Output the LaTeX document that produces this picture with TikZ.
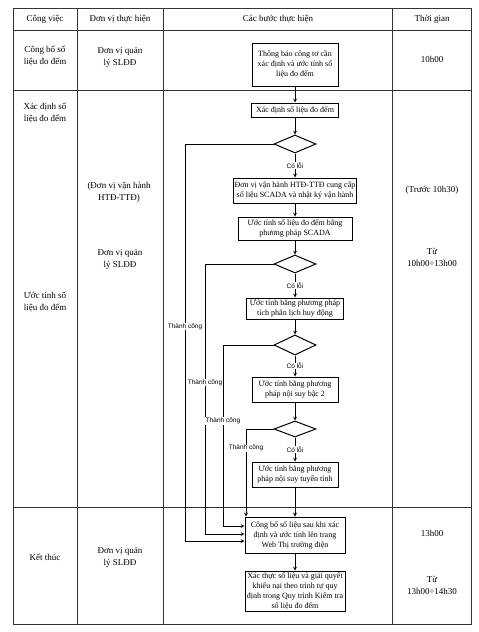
\documentclass[tikz,border=0pt]{standalone}
\usepackage{fontspec}
\setmainfont{Liberation Serif}
\newfontfamily\nhanfont{Liberation Sans}
\usetikzlibrary{shapes.geometric}

\begin{document}
\begin{tikzpicture}[x=1pt,y=-1pt,
  luoi/.style={line width=0.9pt,black!80},
  chu/.style={align=center,font=\fontsize{9}{12}\selectfont},
  buoc/.style={draw,line width=1pt,align=center,inner sep=1pt,font=\fontsize{8}{10}\selectfont},
  reA/.style={draw,diamond,line width=1pt,minimum width=42pt,minimum height=18pt,inner sep=0pt},
  nhan/.style={fill=white,inner sep=0.6pt,font=\nhanfont\fontsize{6.5}{7}\selectfont},
  mui/.style={->,>=stealth,line width=0.7pt}]
\useasboundingbox (0,0) rectangle (479,632);
%bảng
\draw[luoi] (13,8) rectangle (471,624);
\foreach \x in {77,163,392} \draw[luoi] (\x,8) -- (\x,624);
\foreach \y in {30,90,507} \draw[luoi] (13,\y) -- (471,\y);
%tiêu đề
\node[chu] (cv) at (45,19) {Công việc};
\node[chu] (dv) at (120,19) {Đơn vị thực hiện};
\node[chu] (cb) at (278,19) {Các bước thực hiện};
\node[chu] (tg) at (432,19) {Thời gian};
%cột công việc
\node[chu] (cv1) at (45,56) {Công bố số\\liệu đo đếm};
\node[chu] (cv2) at (45,113) {Xác định số\\liệu đo đếm};
\node[chu] (cv3) at (45,302) {Ước tính số\\liệu đo đếm};
\node[chu] (cv4) at (45,557) {Kết thúc};
%cột đơn vị
\node[chu] (dv1) at (120,57) {Đơn vị quản\\lý SLĐĐ};
\node[chu] (dv2) at (119,192) {(Đơn vị vận hành\\HTĐ-TTĐ)};
\node[chu] (dv3) at (120,259) {Đơn vị quản\\lý SLĐĐ};
\node[chu] (dv4) at (120,557) {Đơn vị quản\\lý SLĐĐ};
%cột thời gian
\node[chu] (tg1) at (432,59) {10h00};
\node[chu] (tg2) at (432,190) {(Trước 10h30)};
\node[chu] (tg3) at (432,257) {Từ\\10h00÷13h00};
\node[chu] (tg4) at (432,533) {13h00};
\node[chu] (tg5) at (432,585) {Từ\\13h00÷14h30};
%lưu đồ
\node[buoc,minimum width=86pt,minimum height=43pt] (b1) at (295,64.5) {Thông báo công tơ cần\\xác định và ước tính số\\liệu đo đếm};
\node[buoc,minimum width=87pt,minimum height=14pt] (b2) at (295,110) {Xác định số liệu đo đếm};
\node[reA] (r1) at (295,144) {};
\node[buoc,minimum width=123pt,minimum height=25pt] (b3) at (295,190.5) {Đơn vị vận hành HTĐ-TTĐ cung cấp\\số liệu SCADA và nhật ký vận hành};
\node[buoc,minimum width=114pt,minimum height=23pt] (b4) at (295,228.5) {Ước tính số liệu đo đếm bằng\\phương pháp SCADA};
\node[reA] (r2) at (295,264) {};
\node[buoc,minimum width=97pt,minimum height=21pt] (b5) at (295,308.5) {Ước tính bằng phương pháp\\tích phân lịch huy động};
\node[reA,minimum height=20pt] (r3) at (295,345) {};
\node[buoc,minimum width=86pt,minimum height=25pt] (b6) at (295,389.5) {Ước tính bằng phương\\pháp nội suy bậc 2};
\node[reA,minimum height=16pt] (r4) at (295,429) {};
\node[buoc,minimum width=86pt,minimum height=25pt] (b7) at (295,474.5) {Ước tính bằng phương\\pháp nội suy tuyến tính};
\node[buoc,minimum width=100pt,minimum height=36pt] (b8) at (295,535) {Công bố số liệu sau khi xác\\định và ước tính lên trang\\Web Thị trường điện};
\node[buoc,minimum width=100pt,minimum height=40pt] (b9) at (295,591) {Xác thực số liệu và giải quyết\\khiếu nại theo trình tự quy\\định trong Quy trình Kiểm tra\\số liệu đo đếm};
%mũi tên
\draw[mui] (b1) -- (b2);
\draw[mui] (b2) -- (r1);
\draw[mui] (r1) -- node[nhan]{Có lỗi} (b3);
\draw[mui] (b3) -- (b4);
\draw[mui] (b4) -- (r2);
\draw[mui] (r2) -- node[nhan]{Có lỗi} (b5);
\draw[mui] (b5) -- (r3);
\draw[mui] (r3) -- node[nhan]{Có lỗi} (b6);
\draw[mui] (b6) -- (r4);
\draw[mui] (r4) -- node[nhan]{Có lỗi} (b7);
\draw[mui] (b7) -- (b8);
\draw[mui] (b8) -- (b9);
%nhánh thành công
\coordinate (v1) at (185,541);
\coordinate (v2) at (205,534);
\coordinate (v3) at (223,526);
\coordinate (v4) at (246,517);
\draw[mui] (r1.west) -| node[nhan,pos=0.73]{Thành công} (v1) -- (v1 -| b8.west);
\draw[mui] (r2.west) -| node[nhan,pos=0.72]{Thành công} (v2) -- (v2 -| b8.west);
\draw[mui] (r3.west) -| node[nhan,pos=0.71]{Thành công} (v3) -- (v3 -| b8.west);
\draw[mui] (r4.west) -| node[nhan,pos=0.61]{Thành công} (b8.north -| v4);
\end{tikzpicture}
\end{document}
